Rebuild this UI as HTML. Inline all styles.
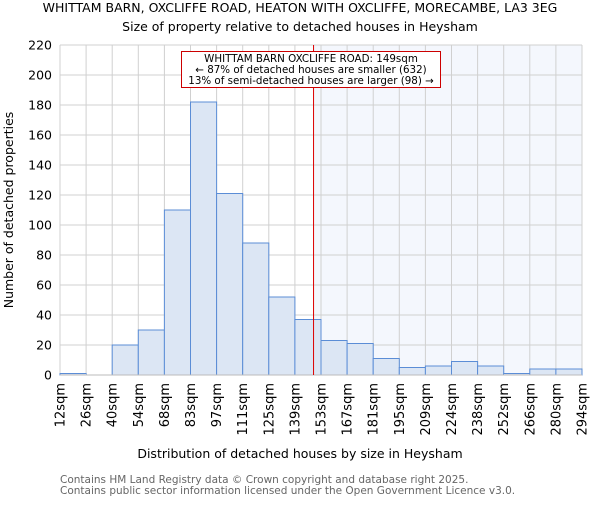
<!DOCTYPE html>
<html><head><meta charset="utf-8"><style>
body{margin:0;background:#fff;}
svg text{font-family:"DejaVu Sans","Liberation Sans",sans-serif;}
</style></head><body>
<svg width="600" height="500" xmlns="http://www.w3.org/2000/svg">
<text x="300" y="12" text-anchor="middle" font-size="12.5" fill="#000">WHITTAM BARN, OXCLIFFE ROAD, HEATON WITH OXCLIFFE, MORECAMBE, LA3 3EG</text>
<text x="300" y="31" text-anchor="middle" font-size="12.5" fill="#000">Size of property relative to detached houses in Heysham</text>
<g id="plot"></g>
<text x="300" y="458" text-anchor="middle" font-size="12.5">Distribution of detached houses by size in Heysham</text>
<text transform="translate(13,210) rotate(-90)" text-anchor="middle" font-size="12.5">Number of detached properties</text>
<text x="60" y="483" font-size="10.5" fill="#666">Contains HM Land Registry data © Crown copyright and database right 2025.</text>
<text x="60" y="494" font-size="10.5" fill="#666">Contains public sector information licensed under the Open Government Licence v3.0.</text>
</svg>
<script>
const binLabels=["12sqm","26sqm","40sqm","54sqm","68sqm","83sqm","97sqm","111sqm","125sqm","139sqm","153sqm","167sqm","181sqm","195sqm","209sqm","224sqm","238sqm","252sqm","266sqm","280sqm","294sqm"];
const counts=[1,0,20,30,110,182,121,88,52,37,23,21,11,5,6,9,6,1,4,4];
const yTicks=[0,20,40,60,80,100,120,140,160,180,200,220];
const markerBin=9+10/14; // 149sqm
const NS="http://www.w3.org/2000/svg";
const g=document.getElementById('plot');
const X0=60,X1=582,Y0=375,Y1=45,YMAX=220;
const bw=(X1-X0)/counts.length;
const xs=i=>X0+i*bw;
const ys=v=>Y0-(v/YMAX)*(Y0-Y1);
function mk(t,a){const e=document.createElementNS(NS,t);for(const k in a)e.setAttribute(k,a[k]);g.appendChild(e);return e;}
const mx=xs(markerBin);
let e=mk('rect',{x:mx,y:Y1,width:X1-mx,height:Y0-Y1,fill:'#f4f7fd'});


yTicks.forEach(t=>{
 let l=mk('line',{x1:X0,x2:X1,y1:ys(t),y2:ys(t),stroke:'#d0d0d0','stroke-width':1});
 
 
 let tx=mk('text',{x:X0-8,y:ys(t)+4.5,'text-anchor':'end','font-size':'12.5'});
 tx.textContent=t;
 
 
});
binLabels.forEach((lb,i)=>{
 let l=mk('line',{x1:xs(i),x2:xs(i),y1:Y1,y2:Y0,stroke:'#d0d0d0','stroke-width':1});
 
 
 let tx=mk('text',{transform:`translate(${xs(i)+4.5},383) rotate(-90)`,'text-anchor':'end','font-size':'13'});
 tx.textContent=lb;
 
 
});
counts.forEach((c,i)=>{
 if(c<=0)return;
 let r=mk('rect',{x:xs(i),y:ys(c),width:bw,height:Y0-ys(c),fill:'#dce6f4',stroke:'#5b8dd6','stroke-width':1});
 
 
});
let ax=mk('line',{x1:X0,x2:X1,y1:Y0,y2:Y0,stroke:'#bbbbbb','stroke-width':1});


let ml=mk('line',{x1:mx,x2:mx,y1:Y1,y2:Y0,stroke:'#dd0000','stroke-width':1});


let box=mk('rect',{x:181.5,y:51.5,width:259,height:36,fill:'#fff',stroke:'#cc0000','stroke-width':1});


["WHITTAM BARN OXCLIFFE ROAD: 149sqm","← 87% of detached houses are smaller (632)","13% of semi-detached houses are larger (98) →"].forEach((s,k)=>{
 let t=mk('text',{x:311,y:62+k*11,'text-anchor':'middle','font-size':'10.3'});
 t.textContent=s;
 
 
});
</script>
</body></html>
